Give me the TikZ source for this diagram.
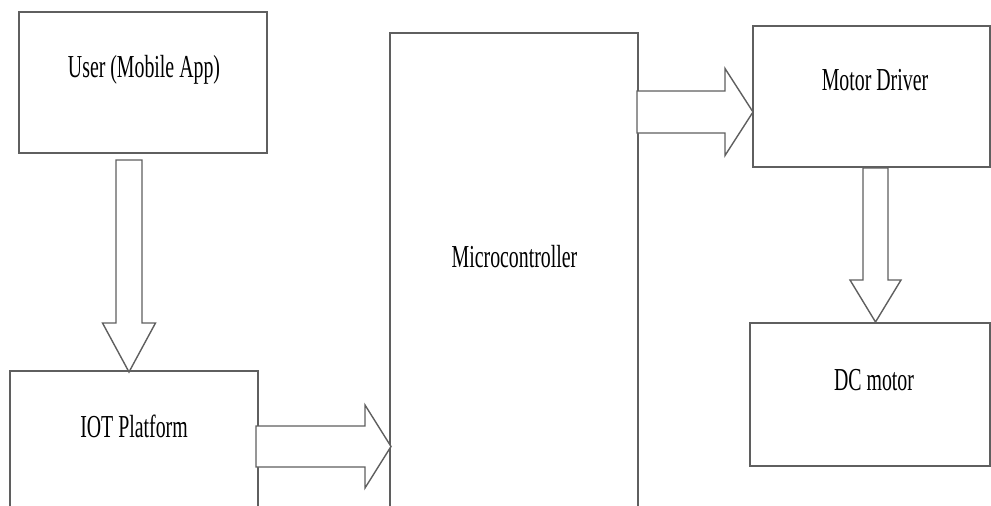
\documentclass[tikz,border=0pt]{standalone}
\usepackage{fontspec}
\setmainfont{Liberation Serif}
\usetikzlibrary{calc}
\definecolor{linegray}{RGB}{95,95,95}
\tikzset{
  box/.style={draw=linegray, line width=1.6pt, rectangle, inner sep=0pt},
  lbl/.style={anchor=base, inner sep=0pt, font=\fontsize{32}{36}\selectfont, text=black},
  blockarrow/.style={draw=linegray, line width=1.4pt, fill=white, line join=miter}
}
\newcommand{\sq}[1]{\scalebox{0.62}[1]{#1}}
\begin{document}
\begin{tikzpicture}[x=1pt,y=-1pt]
\useasboundingbox (0,0) rectangle (991,506);
\clip (0,0) rectangle (991,506);
% boxes (corner to corner)
\node[box, minimum width=248pt, minimum height=141pt] (user) at (143,82.5) {};
\node[box, minimum width=248pt, minimum height=160pt] (iot) at (134,451) {};
\node[box, minimum width=248pt, minimum height=500pt] (mcu) at (514,283) {};
\node[box, minimum width=237pt, minimum height=141pt] (drv) at (871.5,96.5) {};
\node[box, minimum width=240pt, minimum height=143pt] (dc) at (870,394.5) {};
% labels
\node[lbl] (usert) at (144,77) {\sq{User (Mobile App)}};
\node[lbl] (iott) at (134,437) {\sq{IOT Platform}};
\node[lbl] (mcut) at (514.5,267) {\sq{Microcontroller}};
\node[lbl] (drvt) at (875,90) {\sq{Motor Driver}};
\node[lbl] (dct) at (874,390) {\sq{DC motor}};
% arrow end points
\coordinate (a1s) at (129,160);
\coordinate (a1e) at (129,372);
\coordinate (a2s) at (256,446.5);
\coordinate (a2e) at (391,446.5);
\coordinate (a3s) at (637,112);
\coordinate (a3e) at (753,112);
\coordinate (a4s) at (875.5,168);
\coordinate (a4e) at (875.5,322);
% down arrow: User -> IOT
\draw[blockarrow] ($(a1s)+(-13,0)$) -- ($(a1e)+(-13,-49)$) -- ($(a1e)+(-26.5,-49)$) -- (a1e)
  -- ($(a1e)+(26.5,-49)$) -- ($(a1e)+(13,-49)$) -- ($(a1s)+(13,0)$) -- cycle;
% right arrow: IOT -> MCU
\draw[blockarrow] ($(a2s)+(0,-20.5)$) -- ($(a2e)+(-26,-20.5)$) -- ($(a2e)+(-26,-41.5)$) -- (a2e)
  -- ($(a2e)+(-26,41.5)$) -- ($(a2e)+(-26,20.5)$) -- ($(a2s)+(0,20.5)$) -- cycle;
% right arrow: MCU -> Motor Driver
\draw[blockarrow] ($(a3s)+(0,-21)$) -- ($(a3e)+(-28,-21)$) -- ($(a3e)+(-28,-43.5)$) -- (a3e)
  -- ($(a3e)+(-28,43.5)$) -- ($(a3e)+(-28,21)$) -- ($(a3s)+(0,21)$) -- cycle;
% down arrow: Motor Driver -> DC motor
\draw[blockarrow] ($(a4s)+(-12.5,0)$) -- ($(a4e)+(-12.5,-42)$) -- ($(a4e)+(-25.5,-42)$) -- (a4e)
  -- ($(a4e)+(25.5,-42)$) -- ($(a4e)+(12.5,-42)$) -- ($(a4s)+(12.5,0)$) -- cycle;
\end{tikzpicture}
\end{document}
